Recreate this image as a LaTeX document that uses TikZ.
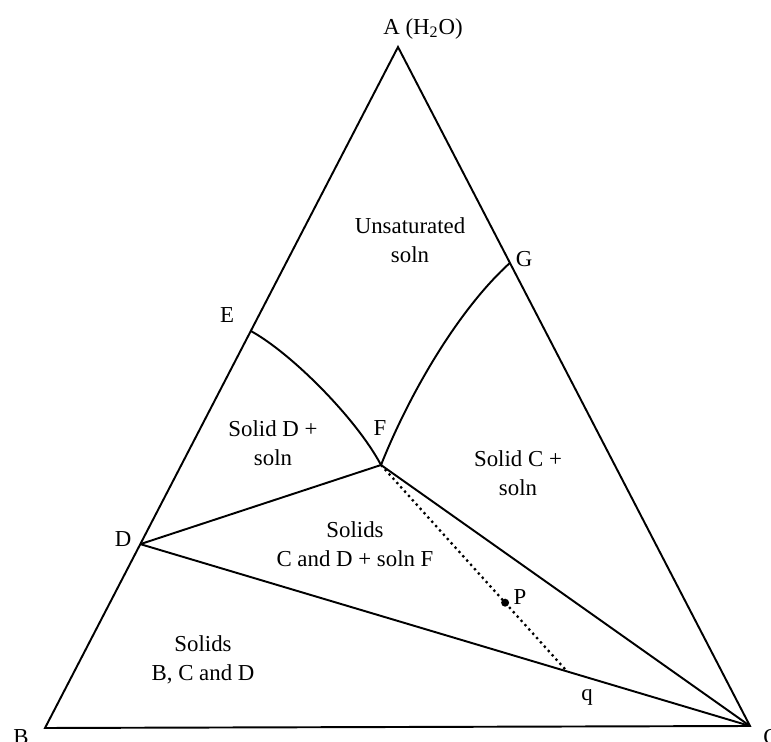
\documentclass[tikz,border=0pt]{standalone}
\usepackage{fontspec}
\setmainfont{Liberation Serif}
\usetikzlibrary{calc}

\begin{document}
\begin{tikzpicture}[x=0.02cm, y=-0.02cm,
      edge/.style={line width=1.1pt},
      tieline/.style={line width=1.3pt, dotted},
      region/.style={align=center, inner sep=0pt,
                     font=\fontsize{13}{16.5}\selectfont},
      ptlabel/.style={inner sep=0pt, font=\fontsize{13}{15}\selectfont}]
  \useasboundingbox (0,0) rectangle (771,742);
  % corners and points of the diagram
  \coordinate (A) at (398,47);
  \coordinate (B) at (45,728);
  \coordinate (C) at (750,726);
  \coordinate (D) at ($(A)!0.730!(B)$);
  \coordinate (E) at ($(A)!0.417!(B)$);
  \coordinate (G) at ($(A)!0.318!(C)$);
  \coordinate (F) at (381,465);
  \coordinate (q) at ($(D)!0.700!(C)$);
  \coordinate (P) at ($(F)!0.667!(q)$);

  \draw[edge] (A) -- (B) -- (C) -- cycle;
  \draw[edge] (E) .. controls (291,353) and (356,418) .. (F);
  \draw[edge] (F) .. controls (411,390) and (460,308) .. (G);
  \draw[edge] (D) -- (F);
  \draw[edge] (F) -- (C);
  \draw[edge] (D) -- (C);
  \draw[tieline] (F) -- (q);
  \fill (P) circle (4);

  \node[ptlabel] (labA) at (423,29) {A (H\textsubscript{2}O)};
  \node[ptlabel] (labB) at (21,737) {B};
  \node[ptlabel] (labC) at (771,737) {C};
  \node[ptlabel] (labD) at (123,539) {D};
  \node[ptlabel] (labE) at (227,315) {E};
  \node[ptlabel] (labF) at (380,428) {F};
  \node[ptlabel] (labG) at (524,259) {G};
  \node[ptlabel] (labP) at (520,597) {P};
  \node[ptlabel] (labq) at (587,697) {q};

  \node[region] (unsat) at (410,240) {Unsaturated\\soln};
  \node[region] (solidD) at (273,443) {Solid D +\\soln};
  \node[region] (solidC) at (518,473) {Solid C +\\soln};
  \node[region] (solidsCD) at (355,544) {Solids\\C and D + soln F};
  \node[region] (solidsBCD) at (203,660) {Solids\\B, C and D};
\end{tikzpicture}
\end{document}
